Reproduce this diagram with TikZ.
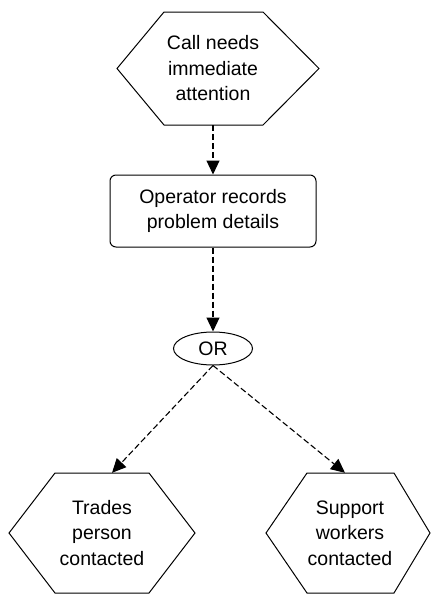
\documentclass[tikz,border=0pt]{standalone}
\usepackage{fontspec}
\setmainfont{Liberation Sans}
\usetikzlibrary{arrows.meta,shapes.geometric}
\tikzset{
  lbl/.style={align=center, inner sep=0pt, font=\fontsize{19.5pt}{25.5pt}\selectfont},
  hexnode/.style={lbl, draw=none},
  hexline/.style={draw=black, line width=1pt, line join=miter},
  opbox/.style={lbl, draw=black, line width=1pt, rounded corners=6pt, minimum width=206pt, minimum height=72pt},
  orbox/.style={lbl, draw=black, line width=1pt, ellipse, minimum width=79pt, minimum height=33pt},
  flow/.style={draw=black, line width=1.1pt, dash pattern=on 6pt off 3pt, -{Triangle[length=14pt,width=13pt]}}
}
\begin{document}
\begin{tikzpicture}[x=1pt,y=-1pt]
\useasboundingbox[fill=white] (0,0) rectangle (431,595);
% top hexagon
\node[hexnode, minimum width=202pt, minimum height=113pt] (call) at (213,68.5) {Call needs\\immediate\\attention};
\draw[hexline] (117,68.5) -- (164,12) -- (263,12) -- (319,68.5) -- (263,125) -- (164,125) -- cycle;
% operator box
\node[opbox] (op) at (213,211) {Operator records\\problem details};
% OR
\node[orbox] (or) at (213,348.5) {OR};
% bottom hexagons
\node[hexnode, minimum width=186pt, minimum height=120pt] (trades) at (102,533) {Trades\\person\\contacted};
\draw[hexline] (9,533) -- (55,473) -- (149,473) -- (195,533) -- (149,593) -- (55,593) -- cycle;
\node[hexnode, minimum width=164pt, minimum height=120pt] (support) at (350,533) {Support\\workers\\contacted};
\draw[hexline] (266,533) -- (307,473) -- (394,473) -- (430,533) -- (394,593) -- (307,593) -- cycle;
% connectors
\draw[flow] (call.south) -- (op.north);
\draw[flow] (op.south) -- (or.north);
\draw[flow] (or.south) -- ([xshift=10pt]trades.north);
\draw[flow] (or.south) -- ([xshift=-5pt]support.north);
\end{tikzpicture}
\end{document}
